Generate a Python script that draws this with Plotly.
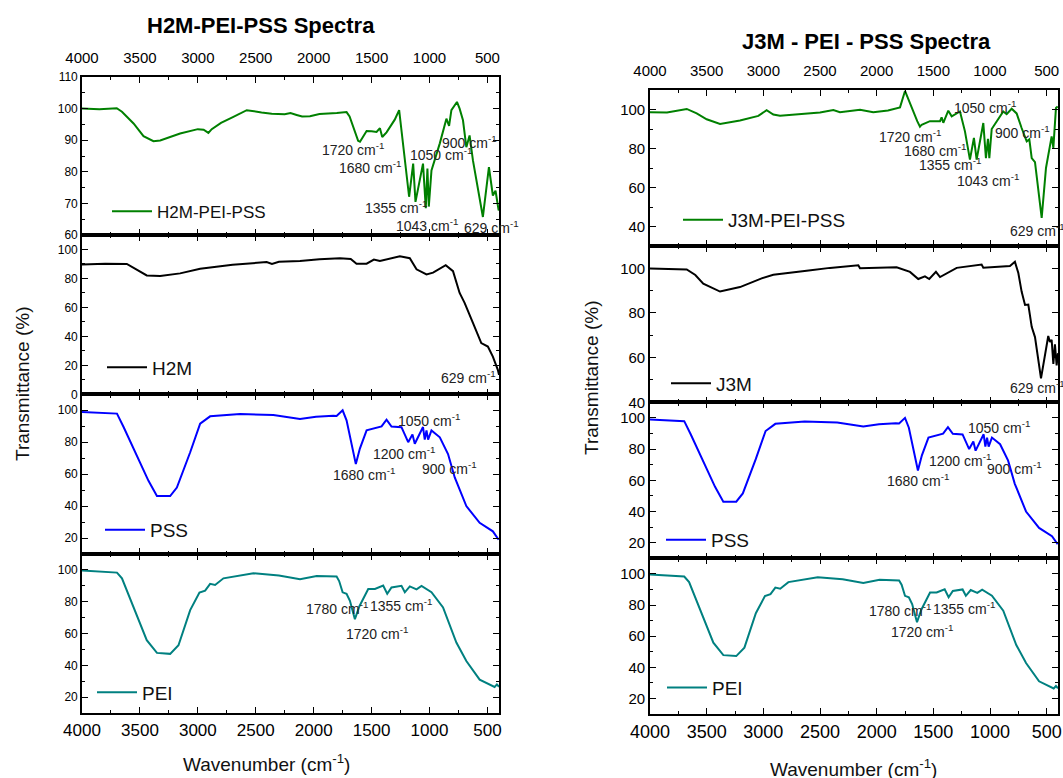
import plotly.graph_objects as go

# ---------------- data (wavenumber cm-1, transmittance %) ----------------
h2m_pei_pss_w = [4000, 3850, 3700, 3655, 3555, 3469, 3383, 3325, 3153, 3000, 2950, 2909, 2880, 2800, 2693, 2578,
                 2450, 2362, 2250, 2200, 2147, 2100, 2032, 1950, 1800, 1716, 1690, 1658, 1616, 1600, 1587, 1543,
                 1500, 1457, 1428, 1408, 1371, 1300, 1262, 1213, 1176, 1141, 1121, 1056, 1032, 1018, 1006, 983,
                 911, 854, 831, 811, 763, 740, 711, 682, 654, 625, 582, 539, 487, 453, 430, 403, 400]
h2m_pei_pss_t = [100.0, 99.8, 100.1, 99.0, 95.3, 91.3, 89.7, 89.9, 92.1, 93.5, 93.3, 92.3, 93.5, 95.5, 97.4, 99.5,
                 98.8, 98.4, 98.2, 98.6, 98.0, 97.5, 97.6, 98.3, 98.6, 98.9, 97.5, 94.2, 89.8, 89.5, 90.3, 92.9,
                 92.8, 92.6, 93.8, 91.0, 92.5, 96.5, 99.5, 84.7, 72.1, 82.6, 70.5, 82.6, 68.5, 81.0, 69.0, 80.4,
                 89.0, 96.8, 94.5, 99.5, 102.1, 100.0, 96.3, 87.8, 91.5, 83.6, 75.2, 65.7, 81.5, 72.5, 74.0, 67.8, 68.0]

h2m_w = [4000, 3800, 3613, 3527, 3441, 3325, 3153, 2980, 2700, 2406, 2360, 2300, 2118, 1950, 1773, 1680, 1630,
         1543, 1480, 1428, 1256, 1170, 1112, 1026, 969, 860, 797, 740, 697, 625, 553, 496, 453, 410, 400]
h2m_t = [89.7, 90.2, 90.0, 86.3, 82.1, 81.7, 83.5, 86.7, 89.5, 91.3, 90.0, 91.5, 92.0, 93.2, 93.9, 93.5, 90.2,
         90.2, 93.0, 92.0, 95.3, 94.0, 86.3, 82.8, 84.0, 89.2, 85.0, 70.0, 63.1, 49.3, 35.4, 33.0, 26.0, 16.9, 13.4]

pss_w = [4000, 3850, 3698, 3641, 3569, 3498, 3426, 3353, 3239, 3181, 3124, 3066, 2980, 2894, 2635, 2348, 2118,
         1980, 1831, 1802, 1750, 1716, 1636, 1601, 1543, 1414, 1371, 1328, 1242, 1184, 1147, 1127, 1056, 1041,
         1026, 1012, 983, 911, 840, 782, 682, 567, 453, 403]
pss_t = [98.9, 98.6, 97.9, 89.5, 77.9, 66.3, 55.8, 46.3, 46.3, 51.6, 62.0, 73.7, 91.6, 96.2, 97.7, 97.0, 94.5,
         96.0, 96.6, 96.4, 100.0, 93.7, 66.3, 76.0, 87.4, 89.9, 94.1, 89.8, 89.4, 80.0, 84.9, 79.0, 89.5, 81.6,
         87.4, 81.6, 87.4, 83.1, 72.6, 57.9, 40.0, 29.5, 24.2, 19.0]

pei_w = [4000, 3850, 3698, 3655, 3555, 3441, 3353, 3239, 3167, 3066, 2986, 2937, 2894, 2851, 2779, 2520, 2300,
         2118, 1974, 1802, 1780, 1750, 1716, 1687, 1644, 1606, 1529, 1471, 1400, 1365, 1328, 1242, 1213, 1170,
         1112, 1069, 983, 883, 768, 682, 567, 481, 438, 418, 400]
pei_t = [99.6, 99.0, 98.3, 94.7, 76.8, 55.8, 47.8, 47.2, 52.6, 74.7, 85.7, 87.0, 91.2, 90.5, 94.7, 97.9, 96.5,
         94.1, 96.2, 95.8, 93.0, 85.9, 85.0, 80.6, 69.0, 77.0, 88.0, 88.0, 90.1, 85.0, 89.0, 90.0, 85.9, 89.6,
         87.8, 89.9, 86.0, 76.4, 54.3, 42.7, 31.0, 28.0, 26.4, 28.0, 26.5]

j3m_pei_pss_w = [4000, 3850, 3676, 3588, 3500, 3382, 3206, 3044, 2971, 2912, 2853, 2700, 2500, 2382, 2324, 2147,
                 2030, 1900, 1794, 1750, 1706, 1642, 1618, 1603, 1530, 1441, 1427, 1412, 1368, 1338, 1265, 1221,
                 1177, 1142, 1118, 1059, 1036, 1018, 1006, 985, 883, 853, 809, 765, 721, 676, 653, 632, 603, 544,
                 506, 477, 456, 441, 418, 403]
j3m_pei_pss_t = [98.6, 98.5, 100.3, 98.0, 95.0, 92.6, 94.4, 96.7, 99.7, 97.4, 96.8, 97.5, 98.5, 99.7, 98.6, 99.9,
                 98.6, 99.5, 101.1, 109.5, 103.0, 94.0, 91.2, 92.2, 94.0, 94.0, 96.0, 93.2, 99.4, 96.5, 99.0, 88.8,
                 74.3, 85.4, 74.3, 93.1, 75.1, 85.0, 75.0, 90.0, 99.0, 97.6, 100.4, 98.0, 90.5, 83.7, 84.7, 75.1,
                 73.0, 44.4, 70.0, 80.3, 86.2, 80.3, 100.8, 101.6]

j3m_w = [4000, 3800, 3676, 3600, 3530, 3382, 3206, 3015, 2912, 2600, 2412, 2162, 2147, 1824, 1706, 1633, 1574,
         1536, 1477, 1441, 1294, 1074, 1059, 824, 780, 750, 721, 691, 662, 632, 603, 550, 515, 486, 471, 456,
         441, 427, 412, 400]
j3m_t = [99.9, 99.8, 99.5, 97.0, 93.1, 89.6, 91.6, 95.5, 97.1, 99.0, 100.2, 101.4, 100.0, 100.5, 98.4, 95.2, 96.4,
         95.2, 98.4, 96.1, 100.2, 101.7, 100.3, 101.0, 102.9, 97.9, 89.6, 83.6, 83.8, 73.8, 69.2, 50.7, 62.0, 69.7,
         67.0, 68.0, 57.2, 66.0, 56.5, 62.0]

series_names = ["H2M-PEI-PSS", "H2M", "PSS", "PEI", "J3M-PEI-PSS", "J3M", "PSS", "PEI"]
series_w = [h2m_pei_pss_w, h2m_w, pss_w, pei_w, j3m_pei_pss_w, j3m_w, pss_w, pei_w]
series_t = [h2m_pei_pss_t, h2m_t, pss_t, pei_t, j3m_pei_pss_t, j3m_t, pss_t, pei_t]
series_colors = ["#008000", "#000000", "#0000FF", "#008080", "#008000", "#000000", "#0000FF", "#008080"]

y_ranges = [[60, 110], [0, 110], [10, 110], [10, 110], [30, 110], [40, 110], [10, 110], [10, 110]]
y_dticks = [10, 20, 20, 20, 20, 20, 20, 20]
y_minor = [5, 10, 10, 10, 10, 10, 10, 10]

# annotation labels: (panel index, wavenumber, transmittance, label)
peak_labels = [
    (0, 1661, 87.2, "1720"), (0, 1511, 81.6, "1680"), (0, 897, 85.6, "1050"), (0, 655, 89.5, "900"),
    (0, 1292, 68.8, "1355"), (0, 1023, 63.2, "1043"), (0, 466, 62.6, "629"),
    (1, 667, 12.2, "629"),
    (2, 1005, 94.1, "1050"), (2, 1223, 73.3, "1200"), (2, 831, 63.8, "900"), (2, 1565, 60.0, "1680"),
    (3, 1802, 75.8, "1780"), (3, 1246, 77.9, "1355"), (3, 1455, 60.4, "1720"),
    (4, 1709, 86.4, "1720"), (4, 1488, 79.2, "1680"), (4, 1349, 71.9, "1355"), (4, 1015, 63.8, "1043"),
    (4, 1047, 101.4, "1050"), (4, 709, 88.6, "900"), (4, 583, 38.2, "629"),
    (5, 577, 46.8, "629"),
    (6, 919, 94.2, "1050"), (6, 1265, 72.7, "1200"), (6, 780, 68.0, "900"), (6, 1633, 60.3, "1680"),
    (7, 1790, 76.7, "1780"), (7, 1228, 78.2, "1355"), (7, 1600, 63.2, "1720"),
]

chart_titles = ["H2M-PEI-PSS Spectra", "J3M - PEI - PSS Spectra"]
x_ticks = [4000, 3500, 3000, 2500, 2000, 1500, 1000, 500]

# ---------------- layout geometry (window pixels) ----------------
W, H = 1063, 778
FONT = "Liberation Sans, Arial, sans-serif"


def px(x):
    return x / W


def py(y):
    return 1 - y / H


x_px = [(82, 499), (650, 1058)]
y_px = [[(77, 235), (235, 394.3), (394.3, 554), (554, 713)],
        [(90, 246), (246, 402.3), (402.3, 558.3), (558.3, 714)]]
legend_px = [(107, 211.7), (102, 367.3), (100, 530), (92, 692.3),
             (678, 220), (666, 383.3), (661, 540), (662, 687.7)]

fig = go.Figure()
layout = dict(width=W, height=H, margin=dict(l=0, r=0, t=0, b=0, autoexpand=False),
              paper_bgcolor="white", plot_bgcolor="white", showlegend=True,
              font=dict(family=FONT, color="black"))
annotations = []

for i in range(8):
    c = i // 4
    p = i % 4
    n = i + 1
    xa = "x" if n == 1 else f"x{n}"
    ya = "y" if n == 1 else f"y{n}"
    lg = "legend" if n == 1 else f"legend{n}"
    fig.add_trace(go.Scatter(x=series_w[i], y=series_t[i], mode="lines", name=series_names[i],
                             line=dict(color=series_colors[i], width=2),
                             xaxis=xa, yaxis=ya, legend=lg))
    x0, x1 = x_px[c]
    ytop, ybot = y_px[c][p]
    xd = dict(domain=[px(x0), px(x1)], range=[4000, 400], anchor=ya, automargin=False,
              showline=True, linecolor="black", linewidth=1.6, mirror="ticks",
              ticks="inside", ticklen=6, tickwidth=1.3, tickcolor="black",
              tickvals=x_ticks, showgrid=False, zeroline=False,
              minor=dict(ticks="inside", ticklen=3.5, tickwidth=1.1, tickcolor="black", dtick=250, tick0=0,
                         showgrid=False))
    if p == 0:
        xd.update(side="top", showticklabels=True, tickfont=dict(size=15, family=FONT),
                  ticklabelstandoff=6)
    elif p == 3:
        xd.update(side="bottom", showticklabels=True,
                  tickfont=dict(size=17 if c == 0 else 18, family=FONT), ticklabelstandoff=1)
    else:
        xd.update(showticklabels=False)
    yd = dict(domain=[py(ybot), py(ytop)], range=y_ranges[i], anchor=xa, automargin=False,
              showline=True, linecolor="black", linewidth=1.6, mirror="ticks",
              ticks="inside", ticklen=6, tickwidth=1.3, tickcolor="black",
              dtick=y_dticks[i], tick0=0, showgrid=False, zeroline=False,
              tickfont=dict(size=12 if c == 0 else 15, family=FONT),
              minor=dict(ticks="inside", ticklen=3.5, tickwidth=1.1, tickcolor="black",
                         dtick=y_minor[i], tick0=0, showgrid=False))
    layout["xaxis" if n == 1 else f"xaxis{n}"] = xd
    layout["yaxis" if n == 1 else f"yaxis{n}"] = yd
    lx, ly = legend_px[i]
    layout[lg] = dict(x=px(lx), y=py(ly), xanchor="left", yanchor="middle",
                      bgcolor="rgba(0,0,0,0)", borderwidth=0,
                      font=dict(size=(17 if i == 0 else 19) if c == 0 else 19, family=FONT, color="#111"),
                      itemwidth=40)

for (pi, w, t, lab) in peak_labels:
    n = pi + 1
    annotations.append(dict(x=w, y=t, xref="x" if n == 1 else f"x{n}", yref="y" if n == 1 else f"y{n}",
                            text=f"{lab} cm<sup>-1</sup>", showarrow=False,
                            xanchor="center", yanchor="middle",
                            font=dict(size=14, family=FONT, color="#222")))

# titles
for (tx, ty, txt) in [(260.5, 25, chart_titles[0]), (866, 42, chart_titles[1])]:
    annotations.append(dict(x=px(tx), y=py(ty), xref="paper", yref="paper", text="<b>" + txt + "</b>",
                            xanchor="center", yanchor="middle", showarrow=False,
                            font=dict(size=22, family=FONT, color="black")))
# axis titles
for (ax, ay) in [(22, 384), (591, 378)]:
    annotations.append(dict(x=px(ax), y=py(ay), xref="paper", yref="paper", text="Transmittance (%)",
                            textangle=-90, xanchor="center", yanchor="middle", showarrow=False,
                            font=dict(size=19, family=FONT, color="#111")))
for (ax, ay) in [(266, 763), (853, 768)]:
    annotations.append(dict(x=px(ax), y=py(ay), xref="paper", yref="paper", text="Wavenumber (cm<sup>-1</sup>)",
                            xanchor="center", yanchor="middle", showarrow=False,
                            font=dict(size=19, family=FONT, color="#111")))

layout["annotations"] = annotations
fig.update_layout(**layout)
fig.write_html("out.html", config={"displayModeBar": False},
               post_script="document.body.style.margin='0';document.documentElement.style.overflow='hidden';")
